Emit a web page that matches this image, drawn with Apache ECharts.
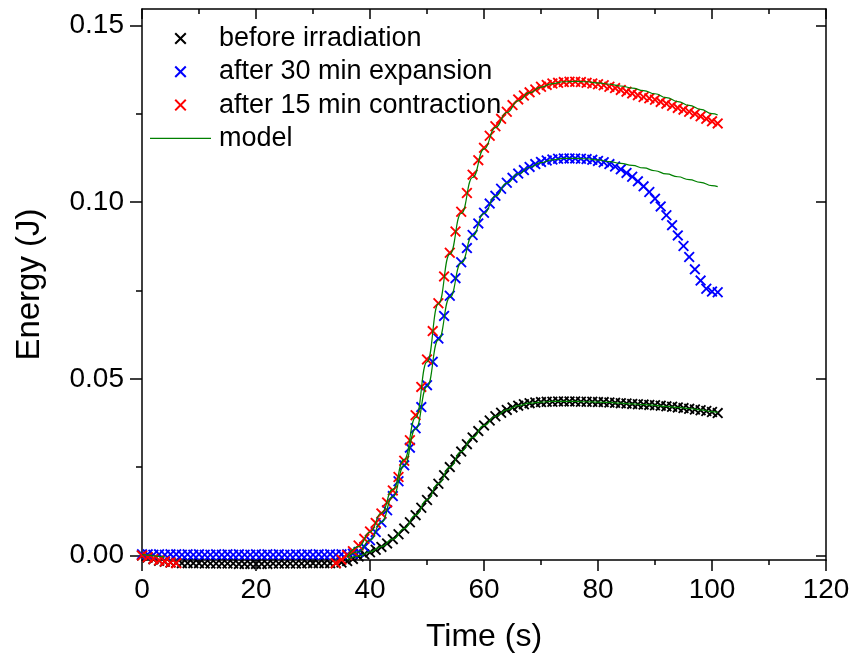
<!DOCTYPE html>
<html><head><meta charset="utf-8">
<script src="https://cdn.jsdelivr.net/npm/echarts@6/dist/echarts.min.js"></script>
<style>html,body{margin:0;padding:0;background:#fff}#c{width:856px;height:664px}</style>
</head><body><div id="c"></div>
<script>
// ---------- data ----------
const timeS = [0,1,2,3,4,5,6,7,8,9,10,11,12,13,14,15,16,17,18,19,20,21,22,23,24,25,26,27,28,29,30,31,32,33,34,35,36,37,38,39,40,41,42,43,44,45,46,47,48,49,50,51,52,53,54,55,56,57,58,59,60,61,62,63,64,65,66,67,68,69,70,71,72,73,74,75,76,77,78,79,80,81,82,83,84,85,86,87,88,89,90,91,92,93,94,95,96,97,98,99,100,101];

const beforeIrradiation = [0.0000,-0.0006,-0.0011,-0.0015,-0.0018,-0.0020,-0.0021,-0.0022,-0.0022,-0.0022,
 -0.0022,-0.0023,-0.0023,-0.0023,-0.0023,-0.0023,-0.0023,-0.0024,-0.0024,-0.0024,
 -0.0024,-0.0024,-0.0024,-0.0023,-0.0023,-0.0023,-0.0023,-0.0023,-0.0023,-0.0022,
 -0.0022,-0.0022,-0.0022,-0.0022,-0.0022,-0.0020,-0.0016,-0.0010,-0.0003,0.0003,
 0.0009,0.0016,0.0024,0.0034,0.0046,0.0060,0.0076,0.0094,0.0114,0.0135,
 0.0157,0.0180,0.0203,0.0227,0.0250,0.0272,0.0294,0.0315,0.0334,0.0352,
 0.0368,0.0382,0.0394,0.0404,0.0412,0.0419,0.0424,0.0428,0.0431,0.0433,
 0.0434,0.0435,0.0435,0.0436,0.0436,0.0436,0.0436,0.0435,0.0435,0.0435,
 0.0434,0.0434,0.0433,0.0432,0.0431,0.0430,0.0429,0.0428,0.0427,0.0426,
 0.0425,0.0424,0.0422,0.0421,0.0419,0.0417,0.0415,0.0413,0.0411,0.0409,
 0.0406,0.0403];

const after30Expansion = [0.0003,0.0003,0.0002,0.0003,0.0002,0.0003,0.0003,0.0002,0.0003,0.0002,
 0.0003,0.0002,0.0002,0.0003,0.0002,0.0003,0.0002,0.0003,0.0002,0.0002,
 0.0003,0.0002,0.0003,0.0002,0.0003,0.0002,0.0002,0.0003,0.0002,0.0003,
 0.0002,0.0003,0.0002,0.0003,0.0002,0.0003,0.0003,0.0005,0.0010,0.0024,
 0.0043,0.0066,0.0094,0.0128,0.0168,0.0210,0.0255,0.0305,0.0360,0.0420,
 0.0482,0.0548,0.0614,0.0678,0.0735,0.0785,0.0830,0.0870,0.0907,0.0940,
 0.0970,0.0996,0.1018,0.1038,0.1055,0.1069,0.1081,0.1091,0.1100,0.1108,
 0.1114,0.1118,0.1121,0.1123,0.1124,0.1124,0.1124,0.1123,0.1122,0.1120,
 0.1117,0.1113,0.1108,0.1101,0.1093,0.1083,0.1072,0.1059,0.1045,0.1029,
 0.1010,0.0988,0.0963,0.0935,0.0906,0.0876,0.0845,0.0810,0.0778,0.0755,
 0.0747,0.0745];

const after15Contraction = [0.0000,-0.0005,-0.0010,-0.0014,-0.0017,-0.0020,-0.0022,null,null,null,
 null,null,null,null,null,null,null,null,null,null,
 null,null,null,null,null,null,null,null,null,null,
 null,null,null,null,-0.0022,-0.0012,0.0001,0.0012,0.0028,0.0047,
 0.0068,0.0092,0.0119,0.0150,0.0184,0.0222,0.0268,0.0326,0.0397,0.0477,
 0.0555,0.0635,0.0714,0.0790,0.0857,0.0917,0.0973,0.1026,0.1078,0.1119,
 0.1154,0.1188,0.1215,0.1236,0.1256,0.1275,0.1291,0.1302,0.1311,0.1319,
 0.1327,0.1332,0.1336,0.1338,0.1340,0.1341,0.1341,0.1340,0.1338,0.1336,
 0.1334,0.1331,0.1327,0.1323,0.1318,0.1313,0.1308,0.1303,0.1298,0.1294,
 0.1290,0.1284,0.1279,0.1273,0.1267,0.1262,0.1256,0.1250,0.1243,0.1236,
 0.1229,0.1223];

const modelTime = [36,38,40,42,44,46,48,50,52,54,56,58,60,62,64,66,68,70,72,74,76,78,80,82,84,86,88,90,92,94,96,98,100,101];
const modelBefore = [-0.0013,-0.0002,0.0010,0.0025,0.0046,0.0076,0.0114,0.0157,0.0203,0.0250,0.0294,0.0334,0.0368,0.0394,0.0412,0.0424,0.0431,0.0434,0.0436,0.0436,0.0436,0.0435,0.0434,0.0433,0.0431,0.0429,0.0427,0.0425,0.0422,0.0419,0.0416,0.0412,0.0407,0.0405];
const modelExpansion = [-0.0006,0.0010,0.0043,0.0094,0.0166,0.0254,0.0358,0.0478,0.0610,0.0730,0.0828,0.0905,0.0968,0.1017,0.1054,0.1080,0.1099,0.1112,0.1120,0.1124,0.1124,0.1123,0.1120,0.1115,0.1110,0.1104,0.1097,0.1089,0.1080,0.1072,0.1064,0.1056,0.1047,0.1044];
const modelContraction = [-0.0004,0.0025,0.0066,0.0120,0.0187,0.0272,0.0390,0.0548,0.0712,0.0853,0.0968,0.1070,0.1150,0.1211,0.1254,0.1287,0.1310,0.1326,0.1336,0.1341,0.1342,0.1341,0.1338,0.1334,0.1329,0.1323,0.1316,0.1307,0.1296,0.1285,0.1274,0.1263,0.1251,0.1247];
const modelStartTime = [0,1,2,3,4];
const modelStart = [0.0002,0.0001,-0.0001,-0.0003,-0.0005];

const xMajorTicks = [0,20,40,60,80,100,120];
const yMajorTicks = [0,0.05,0.10,0.15];
const yMinorTicks = [0.025,0.075,0.125];
const legendNames = ['before irradiation','after 30 min expansion','after 15 min contraction','model'];

// ---------- helpers ----------
function pairs(xs, ys){ const out=[]; for(let i=0;i<xs.length;i++){ if(ys[i]!==null) out.push([xs[i],ys[i]]); } return out; }
const FONT = '"Liberation Sans", Arial, sans-serif';
const CROSS = 'path://M0,1.2L1.2,0L5,3.8L8.8,0L10,1.2L6.2,5L10,8.8L8.8,10L5,6.2L1.2,10L0,8.8L3.8,5Z';
const LINE_ICON = 'path://M0,0L60,0L60,1.2L0,1.2Z';
const lineBlk = {color:'#000', width:1.5};
const Y_MIN = -0.0013, Y_MAX = 0.1547;

function scatter(name, ys, color){
  return {type:'scatter', name, data:pairs(timeS, ys), symbol:CROSS, symbolSize:11,
    itemStyle:{color, opacity:1}, clip:false, silent:true, animation:false};
}
function model(xs, ys){
  return {type:'line', name:'model', data:pairs(xs, ys), symbol:'none', showSymbol:false,
    smooth:true, smoothMonotone:'x', clip:false, lineStyle:{color:'#008000', width:1.2},
    itemStyle:{color:'#008000'}, silent:true, animation:false};
}

const chart = echarts.init(document.getElementById('c'), null, {renderer:'canvas'});
chart.setOption({
  backgroundColor:'#fff',
  animation:false,
  textStyle:{fontFamily:FONT},
  grid:{left:142, right:30, top:9, bottom:104, containLabel:false},
  legend:{
    data:[
      {name:legendNames[0]},
      {name:legendNames[1]},
      {name:legendNames[2]},
      {name:legendNames[3], icon:LINE_ICON}
    ],
    orient:'vertical', left:145, top:20,
    itemWidth:61, itemHeight:12, itemGap:6.3,
    textStyle:{fontSize:27, lineHeight:27, color:'#000', fontFamily:FONT, padding:[0,0,0,3]},
    selectedMode:false
  },
  xAxis:[
    {type:'value', position:'bottom', min:0, max:120, interval:20,
     axisLine:{show:true, onZero:false, lineStyle:lineBlk},
     axisTick:{show:true, inside:false, length:11, lineStyle:lineBlk},
     minorTick:{show:true, splitNumber:2, length:5, lineStyle:lineBlk},
     axisLabel:{show:true, fontSize:28, color:'#000', margin:16, fontFamily:FONT},
     splitLine:{show:false}, minorSplitLine:{show:false},
     name:'Time (s)', nameLocation:'middle', nameGap:61,
     nameTextStyle:{fontSize:32, color:'#000', fontFamily:FONT}},
    {type:'value', position:'top', min:0, max:120, interval:20,
     axisLine:{show:true, onZero:false, lineStyle:lineBlk},
     axisTick:{show:true, inside:true, length:10, lineStyle:lineBlk},
     minorTick:{show:true, splitNumber:2, length:5, lineStyle:lineBlk},
     axisLabel:{show:false}, splitLine:{show:false}}
  ],
  yAxis:[
    {type:'value', position:'left', min:Y_MIN, max:Y_MAX,
     axisLine:{show:true, onZero:false, lineStyle:lineBlk},
     axisTick:{show:true, inside:false, length:12, customValues:yMajorTicks, lineStyle:lineBlk},
     axisLabel:{show:true, customValues:yMajorTicks, fontSize:28, color:'#000', margin:18, fontFamily:FONT,
       formatter:v=>Number(v).toFixed(2)},
     splitLine:{show:false},
     name:'Energy (J)', nameLocation:'middle', nameGap:96, nameRotate:90,
     nameTextStyle:{fontSize:33, color:'#000', fontFamily:FONT}},
    {type:'value', position:'right', min:Y_MIN, max:Y_MAX,
     axisLine:{show:true, onZero:false, lineStyle:lineBlk},
     axisTick:{show:true, inside:true, length:10, customValues:yMajorTicks, lineStyle:lineBlk},
     axisLabel:{show:false}, splitLine:{show:false}},
    {type:'value', position:'left', min:Y_MIN, max:Y_MAX,
     axisLine:{show:false},
     axisTick:{show:true, inside:false, length:6, customValues:yMinorTicks, lineStyle:lineBlk},
     axisLabel:{show:false}, splitLine:{show:false}},
    {type:'value', position:'right', min:Y_MIN, max:Y_MAX,
     axisLine:{show:false},
     axisTick:{show:true, inside:true, length:5, customValues:yMinorTicks, lineStyle:lineBlk},
     axisLabel:{show:false}, splitLine:{show:false}}
  ],
  series:[
    scatter(legendNames[0], beforeIrradiation, '#000000'),
    scatter(legendNames[1], after30Expansion, '#0000ff'),
    scatter(legendNames[2], after15Contraction, '#ff0000'),
    model(modelTime, modelBefore),
    model(modelTime, modelExpansion),
    model(modelTime, modelContraction),
    model(modelStartTime, modelStart)
  ]
});
</script></body></html>
